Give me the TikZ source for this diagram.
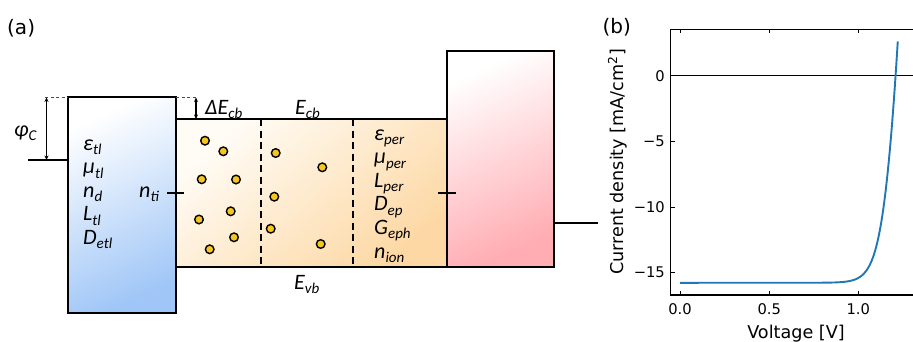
\documentclass[tikz,border=0pt]{standalone}
\usepackage{fontspec}
\usetikzlibrary{arrows.meta}
\newfontfamily\calfont{Carlito}
\newfontfamily\plotfont{DejaVu Sans}
% lowered subscript for band-diagram symbols
\newcommand\sbt[1]{\raisebox{-4.5pt}{\fontsize{15}{15}\selectfont #1}}
\definecolor{etlA}{RGB}{255,255,255}
\definecolor{etlB}{RGB}{160,198,247}
\definecolor{perA}{RGB}{255,252,246}
\definecolor{perB}{RGB}{253,216,164}
\definecolor{htlA}{RGB}{255,255,255}
\definecolor{htlB}{RGB}{255,172,178}
\definecolor{dotfill}{RGB}{247,198,30}
\definecolor{mplblue}{RGB}{31,119,180}
\tikzset{
  layer/.style={draw=black, line width=1.8pt},
  sym/.style={font=\calfont\itshape\fontsize{22}{26}\selectfont, inner sep=0pt},
  ion/.style={circle, draw=black, line width=1.4pt, fill=dotfill, minimum size=8.6pt, inner sep=0pt},
  guide/.style={draw=black!70, line width=0.9pt, dash pattern=on 3pt off 2.5pt},
  level/.style={line width=1.5pt},
  gap/.style={line width=1.3pt, {Stealth[length=4.5pt,width=4pt]}-{Stealth[length=4.5pt,width=4pt]}},
  spine/.style={line width=1.1pt},
  tk/.style={line width=1pt},
  ticklab/.style={font=\plotfont\fontsize{14.7}{16}\selectfont, inner sep=0pt},
  axlab/.style={font=\plotfont\fontsize{17.6}{20}\selectfont, inner sep=0pt},
  panel/.style={font=\plotfont\fontsize{20}{22}\selectfont, inner sep=0pt, anchor=base west},
}
\begin{document}
\begin{tikzpicture}[x=1pt, y=-1pt]
\useasboundingbox (0,0) rectangle (913,341);

% ---------------- (a) band diagram ----------------
\node[panel] (pa) at (7,34.4) {(a)};

% perovskite absorber
\shade[layer, top color=perA, bottom color=perB, shading angle=40] (176,119) rectangle (447,267);
\draw[line width=1.8pt, dash pattern=on 7pt off 4.5pt] (261,119) -- (261,267);
\draw[line width=1.8pt, dash pattern=on 7pt off 4.5pt] (353,119) -- (353,267);

% transport layers
\shade[layer, top color=etlA, bottom color=etlB, shading angle=25] (68,97) rectangle (176,313);
\shade[layer, top color=htlA, bottom color=htlB, shading angle=25] (447,51) rectangle (554,267);

% contact levels and offsets
\coordinate (phL) at (45,97);
\coordinate (phR) at (68,97);
\coordinate (cbL) at (176,97);
\coordinate (cbR) at (197,97);
\draw[guide] (phL) -- (phR);
\draw[guide] (cbL) -- (cbR);
\coordinate (wfA) at (28,160);
\coordinate (wfB) at (68,160);
\draw[level] (wfA) -- (wfB);
\coordinate (phT) at (46.5,97.5);
\coordinate (phB) at (46.5,160);
\draw[gap] (phT) -- (phB);
\coordinate (dcT) at (196,97.5);
\coordinate (dcB) at (196,119);
\draw[gap] (dcT) -- (dcB);
\coordinate (hcA) at (554,223);
\coordinate (hcB) at (598,223);
\draw[level] (hcA) -- (hcB);
\coordinate (tiA) at (167,193);
\coordinate (tiB) at (184,193);
\draw[level] (tiA) -- (tiB);
\coordinate (thA) at (438,193);
\coordinate (thB) at (456,193);
\draw[level] (thA) -- (thB);

% mobile ions
\foreach \px/\py [count=\i] in {205/140.7, 223.3/151.3, 201.7/179.3, 236/179.5, 199/219.5,
  230.7/211.3, 234/237.3, 209.7/249.3, 275.7/153, 274.3/196.7, 270.7/228.7, 322.3/167.3, 320.7/244}
  \node[ion] (ion\i) at (\px,\py) {};

% labels
\node[sym, anchor=base west] (phic) at (14,136) {φ\sbt{C}};
\node[sym, anchor=base west] (dEcb) at (205,114) {ΔE\sbt{cb}};
\node[sym, anchor=base west] (Ecb) at (295,114) {E\sbt{cb}};
\node[sym, anchor=base west] (Evb) at (294,289) {E\sbt{vb}};
\node[sym, anchor=base west] (nti) at (139,197) {n\sbt{ti}};

\foreach \s [count=\k from 0] in {ε\sbt{tl}, μ\sbt{tl}, n\sbt{d}, L\sbt{tl}, D\sbt{etl}}
  \node[sym, anchor=base west] (etl\k) at (83,{150+23.6*\k}) {\s};
\foreach \s [count=\k from 0] in {ε\sbt{per}, μ\sbt{per}, L\sbt{per}, D\sbt{ep}, G\sbt{eph}, n\sbt{ion}}
  \node[sym, anchor=base west] (per\k) at (374,{140+23.6*\k}) {\s};

% ---------------- (b) J-V curve ----------------
\node[panel] (pb) at (602.3,33.5) {(b)};

% zero-current line
\coordinate (zA) at (670.7,75.7);
\coordinate (zB) at (913,75.7);
\draw[line width=1.1pt] (zA) -- (zB);

% frame
\coordinate (fTL) at (670.7,29.3);
\coordinate (fBL) at (670.7,295);
\coordinate (fBR) at (913,295);
\coordinate (fTR) at (913,29.3);
\draw[spine] (fTR) -- (fTL) -- (fBL) -- (fBR);

% x ticks (inward, top and bottom)
\foreach \xv/\lab in {680/0.0, 769.2/0.5, 858.3/1.0} {
  \draw[tk] (\xv,295) -- (\xv,291.2);
  \draw[tk] (\xv,29.3) -- (\xv,33.1);
  \node[ticklab, anchor=base] at (\xv,314) {\lab};
}
% y ticks (inward)
\foreach \yv/\lab in {75.7/0, 141.35/−5, 207/−10, 272.65/−15} {
  \draw[tk] (670.7,\yv) -- (674.5,\yv);
  \node[ticklab, anchor=base east] at (665,\yv+5.3) {\lab};
}

% axis titles
\node[axlab, anchor=base] (xlab) at (796,338) {Voltage [V]};
\node[axlab, anchor=base, rotate=90] (ylab) at (623.5,162) {Current density [mA/cm\textsuperscript{2}]};

% diode curve with series resistance
\draw[mplblue, line width=1.9pt, line join=round]
  (680,282.8) -- plot[domain=-12:0.1564, samples=220, variable=\t]
  ({680+178.3*(1.209+0.0477*\t+0.00194*15.77*(exp(\t)-1))}, {75.7-13.13*15.77*(exp(\t)-1)});

\end{tikzpicture}
\end{document}
